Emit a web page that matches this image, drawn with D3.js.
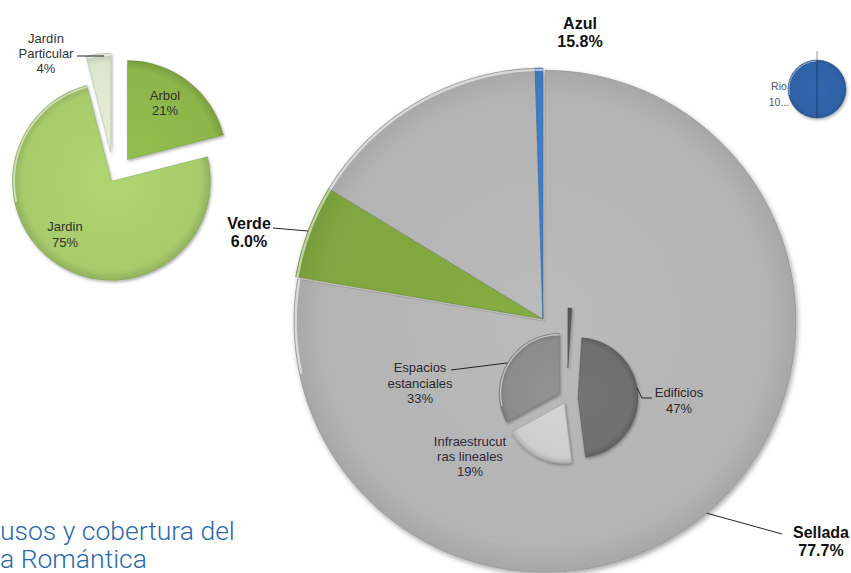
<!DOCTYPE html>
<html>
<head>
<meta charset="utf-8">
<script src="https://cdn.jsdelivr.net/npm/d3@7"></script>
<style>
  html, body { margin: 0; padding: 0; background: #fff; }
  svg { display: block; }
</style>
</head>
<body>
<svg id="chart" width="851" height="573"></svg>
<script>
// ---- Data ----
// Main pie: land cover (clockwise from 12 o'clock)
const mainCategories = ["Sellada", "Verde", "Azul", ""];
const mainValues = [77.7, 6.0, 15.8, 0.5];

// Breakdown of green cover
const verdeCategories = ["Arbol", "Jardin", "Jardín Particular"];
const verdeValues = [21, 75, 4];

// Breakdown of sealed surface
const selladaCategories = ["", "Edificios", "Infraestrucutras lineales", "Espacios estanciales"];
const selladaValues = [1, 47, 19, 33];

// Breakdown of water
const azulCategories = ["Rio"];
const azulValues = [100];

// Caption lines
const captionLines = ["usos y cobertura del", "a Romántica"];

// ---- Layout / style ----
const svg = d3.select("#chart");
const defs = svg.append("defs");

const shadow = defs.append("filter").attr("id", "shadow")
  .attr("x", "-20%").attr("y", "-20%").attr("width", "140%").attr("height", "140%");
shadow.append("feDropShadow").attr("dx", 1.5).attr("dy", 2.5)
  .attr("stdDeviation", 2.5).attr("flood-color", "#000").attr("flood-opacity", 0.35);

const soft = defs.append("filter").attr("id", "soft")
  .attr("x", "-20%").attr("y", "-20%").attr("width", "140%").attr("height", "140%");
soft.append("feDropShadow").attr("dx", 1).attr("dy", 1.5)
  .attr("stdDeviation", 1.5).attr("flood-color", "#000").attr("flood-opacity", 0.35);

let gradCount = 0;
function sliceGradient(base, r, dark) {
  const id = "g" + (gradCount++);
  const c = d3.color(base);
  const g = defs.append("radialGradient").attr("id", id)
    .attr("gradientUnits", "userSpaceOnUse")
    .attr("cx", 0).attr("cy", 0).attr("r", r);
  g.append("stop").attr("offset", "0%").attr("stop-color", c.brighter(0.12));
  g.append("stop").attr("offset", "90%").attr("stop-color", c);
  g.append("stop").attr("offset", "100%").attr("stop-color", c.darker(dark));
  return "url(#" + id + ")";
}

// Draw an exploded pie; offsets push each slice outwards along its mid-angle
function drawPie(cfg) {
  const pie = d3.pie().sort(null).value(d => d)(cfg.values);
  const arc = d3.arc().innerRadius(0).outerRadius(cfg.r);
  const rim = d3.arc().innerRadius(cfg.r - cfg.rimWidth).outerRadius(cfg.r - 0.6);
  const g = svg.append("g")
    .attr("transform", `translate(${cfg.cx},${cfg.cy})`)
    .attr("filter", cfg.filter || null);
  const slices = g.selectAll("g.slice").data(pie).join("g")
    .attr("class", "slice")
    .attr("transform", (d, i) => {
      const mid = (d.startAngle + d.endAngle) / 2;
      const off = cfg.offsets[i];
      return `translate(${off * Math.sin(mid)},${-off * Math.cos(mid)})`;
    });
  slices.append("path")
    .attr("d", arc)
    .attr("fill", (d, i) => sliceGradient(cfg.colors[i], cfg.r, cfg.dark))
    .attr("stroke", (d, i) => d3.color(cfg.colors[i]).darker(0.8))
    .attr("stroke-opacity", 0.55)
    .attr("stroke-width", cfg.strokeWidth || 0.8)
    .attr("stroke-linejoin", "round");
  // bevel highlight along the upper-left part of each rim
  slices.append("path")
    .attr("d", d => {
      const a0 = Math.max(d.startAngle, 4.5), a1 = Math.min(d.endAngle, 2 * Math.PI);
      return a1 > a0 ? rim({ startAngle: a0, endAngle: a1 }) : null;
    })
    .attr("fill", "#fff")
    .attr("fill-opacity", 0.55);
  return { pie, g };
}

// rim point at a slice's mid-angle (used for leader lines)
function rimPoint(cfg, d, i) {
  const mid = (d.startAngle + d.endAngle) / 2;
  const rr = cfg.offsets[i] + cfg.r;
  return [cfg.cx + rr * Math.sin(mid), cfg.cy - rr * Math.cos(mid)];
}

function label(x, y, lines, opts) {
  const t = svg.append("text")
    .attr("x", x).attr("y", y)
    .attr("text-anchor", "middle")
    .attr("font-family", "'Liberation Sans', Arial, sans-serif")
    .attr("font-size", opts.size)
    .attr("font-weight", opts.weight || "normal")
    .attr("fill", opts.color || "#333");
  lines.forEach((s, k) => {
    t.append("tspan").attr("x", x).attr("dy", k === 0 ? 0 : opts.lh).text(s);
  });
}

function leader(points) {
  svg.append("path")
    .attr("d", d3.line()(points))
    .attr("fill", "none")
    .attr("stroke", "#222")
    .attr("stroke-width", 1);
}

const pct1 = d3.format(".1%");
const pct0 = d3.format(".0%");

// ---- Main pie ----
const mainCfg = {
  cx: 543, cy: 319, r: 251,
  values: mainValues,
  colors: ["#b3b3b3", "#7fa63f", "#b3b3b3", "#3f7dc8"],
  offsets: [3, 0, 0, 0],
  filter: "url(#shadow)",
  strokeWidth: 1, dark: 0.2, rimWidth: 3
};
const main = drawPie(mainCfg);
const mainTotal = d3.sum(mainValues);

// ---- Sealed-surface breakdown (drawn on top of the main pie) ----
const selCfg = {
  cx: 567, cy: 398, r: 60,
  values: selladaValues,
  colors: ["#5a5a5a", "#6f6f6f", "#cdcdcd", "#8c8c8c"],
  offsets: [30, 11, 6, 9],
  filter: "url(#soft)", dark: 0.45, rimWidth: 2
};
const sel = drawPie(selCfg);
const selTotal = d3.sum(selladaValues);

// ---- Green breakdown ----
const verCfg = {
  cx: 114, cy: 177, r: 99,
  values: verdeValues,
  colors: ["#8cb64a", "#a8cc6c", "#dbe6cd"],
  offsets: [22, 5, 25],
  filter: "url(#soft)", dark: 0.4, rimWidth: 2.5
};
const ver = drawPie(verCfg);
const verTotal = d3.sum(verdeValues);

// ---- Water breakdown ----
const rioCfg = {
  cx: 817, cy: 89, r: 29,
  values: azulValues,
  colors: ["#2f62a6"],
  offsets: [0],
  filter: "url(#soft)", dark: 0.45, rimWidth: 1.5
};
const rio = drawPie(rioCfg);
rio.g.append("line")
  .attr("x1", 0).attr("x2", 0).attr("y1", -rioCfg.r).attr("y2", rioCfg.r)
  .attr("stroke", "#1d4680").attr("stroke-width", 1.2);
svg.append("line")
  .attr("x1", rioCfg.cx).attr("x2", rioCfg.cx)
  .attr("y1", rioCfg.cy - rioCfg.r - 9).attr("y2", rioCfg.cy - rioCfg.r)
  .attr("stroke", "#999").attr("stroke-width", 1);

// ---- Main labels ----
const mp = main.pie;
const bold = { size: 16, weight: "bold", lh: 18, color: "#111" };
label(580, 29, [mainCategories[2], pct1(mainValues[2] / mainTotal)], bold);
label(249, 229, [mainCategories[1], pct1(mainValues[1] / mainTotal)], bold);
label(821, 538, [mainCategories[0], pct1(mainValues[0] / mainTotal)], bold);
leader([[273, 228], rimPoint(mainCfg, mp[1], 1)]);
leader([rimPoint(mainCfg, mp[0], 0), [782, 534]]);

// ---- Sealed-surface labels ----
const small = { size: 13, lh: 15.5, color: "#2b2b2b" };
label(420, 372, ["Espacios", "estanciales", pct0(selladaValues[3] / selTotal)], small);
leader([[451, 370], rimPoint(selCfg, sel.pie[3], 3)]);
label(679, 397, [selladaCategories[1], pct0(selladaValues[1] / selTotal)], small);
{
  const p = rimPoint(selCfg, sel.pie[1], 1);
  leader([[p[0] - 1, p[1] - 8], [p[0] + 4, 398], [652, 398]]);
}
label(470, 446, ["Infraestrucut", "ras lineales", pct0(selladaValues[2] / selTotal)],
  { size: 13, lh: 15, color: "#2e2b3e" });

// ---- Green labels ----
label(165, 100, [verdeCategories[0], pct0(verdeValues[0] / verTotal)], { size: 13, lh: 15, color: "#333" });
label(65, 231, [verdeCategories[1], pct0(verdeValues[1] / verTotal)], { size: 13, lh: 16, color: "#333" });
label(46, 43, ["Jardín", "Particular", pct0(verdeValues[2] / verTotal)], { size: 13, lh: 15, color: "#333" });
leader([[77, 56], [104, 56]]);

// ---- Water label (truncated as the chart shows it) ----
const rioPct = pct0(azulValues[0] / d3.sum(azulValues));
label(779, 90, [azulCategories[0], rioPct.slice(0, 2) + "..."], { size: 10.5, lh: 16, color: "#555" });

// ---- Caption ----
const cap = svg.append("text")
  .attr("font-family", "'Helvetica Neue', Roboto, 'Open Sans', sans-serif")
  .attr("font-weight", 300)
  .attr("font-size", 26.5)
  .attr("fill", "#2a6aa6");
captionLines.forEach((s, k) => {
  cap.append("tspan").attr("x", 0).attr("y", 540 + k * 28).text(s);
});
</script>
</body>
</html>
